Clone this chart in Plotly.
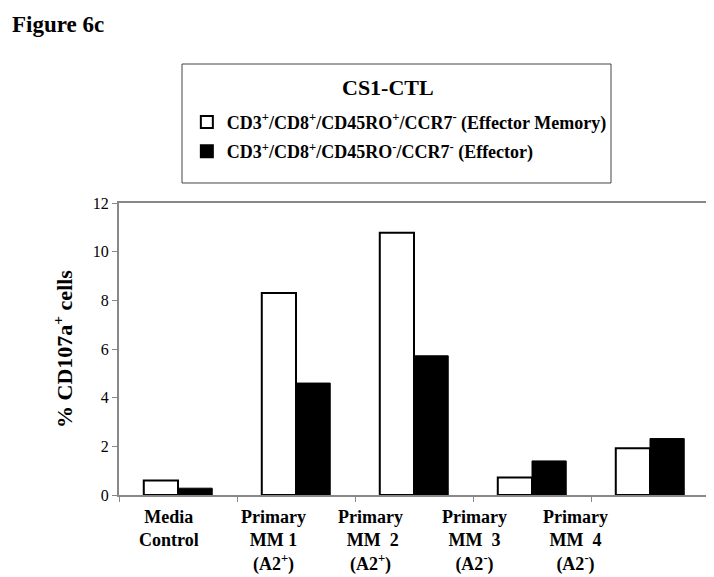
import plotly.graph_objects as go

categories = ["Media Control", "Primary MM 1 (A2+)", "Primary MM 2 (A2+)",
              "Primary MM 3 (A2-)", "Primary MM 4 (A2-)"]
tick_labels = ["Media<br>Control",
               "Primary<br>MM 1<br>(A2<sup>+</sup>)",
               "Primary<br> MM  2<br>(A2<sup>+</sup>)",
               "Primary<br>MM  3<br>(A2<sup>-</sup>)",
               "Primary<br>MM  4<br>(A2<sup>-</sup>)"]
effector_memory = [0.6, 8.3, 10.78, 0.72, 1.92]
effector = [0.28, 4.6, 5.72, 1.4, 2.32]
series_names = ["CD3<sup>+</sup>/CD8<sup>+</sup>/CD45RO<sup>+</sup>/CCR7<sup>-</sup> (Effector Memory)",
                "CD3<sup>+</sup>/CD8<sup>+</sup>/CD45RO<sup>-</sup>/CCR7<sup>-</sup> (Effector)"]
legend_title = "CS1-CTL"
y_ticks = [0, 2, 4, 6, 8, 10, 12]

# label horizontal offsets (in category units) mimicking the original's placement
label_offsets = [-0.08, -0.19, -0.37, -0.49, -0.63]

FONT = "Times New Roman"

fig = go.Figure()
fig.add_trace(go.Bar(
    x=categories, y=effector_memory, name="<b>" + series_names[0] + "</b>",
    marker=dict(color="white", line=dict(color="black", width=2)),
    legendgroup="a"))
fig.add_trace(go.Bar(
    x=categories, y=effector, name="<b>" + series_names[1] + "</b>",
    marker=dict(color="black", line=dict(color="black", width=1)),
    legendgroup="b"))

for i, (lab, off) in enumerate(zip(tick_labels, label_offsets)):
    fig.add_annotation(x=i + off, y=0, xref="x", yref="y", text="<b>" + lab + "</b>",
                       showarrow=False, yanchor="top", yshift=-10, align="center",
                       font=dict(family=FONT, size=18, color="black"))

fig.add_annotation(x=-0.185, y=1.66, xref="paper", yref="paper", xanchor="left", yanchor="top",
                   text="<b>Figure 6c</b>", showarrow=False,
                   font=dict(family=FONT, size=23, color="black"))

# legend frame and title
fig.add_shape(type="rect", xref="paper", yref="paper",
              x0=0.1068, x1=0.8339, y0=1.0685, y1=1.476,
              line=dict(color="#444", width=1), fillcolor="rgba(0,0,0,0)")
fig.add_annotation(x=0.456, y=1.394, xref="paper", yref="paper", xanchor="center", yanchor="middle",
                   text="<b>" + legend_title + "</b>", showarrow=False,
                   font=dict(family=FONT, size=22, color="black"))

fig.update_layout(
    width=706, height=569,
    margin=dict(l=111, r=5, t=195, b=82, autoexpand=False),
    paper_bgcolor="white", plot_bgcolor="white",
    barmode="group", bargap=0.42, bargroupgap=0,
    font=dict(family=FONT, color="black"),
    legend=dict(
        x=0.115, y=1.34, xanchor="left", yanchor="top",
        borderwidth=0, bgcolor="rgba(0,0,0,0)",
        traceorder="grouped", tracegroupgap=3,
        font=dict(family=FONT, size=18, color="black"),
        itemsizing="constant",
    ),
    xaxis=dict(
        showticklabels=False, tickson="boundaries", ticks="outside", ticklen=5,
        tickcolor="#888", showline=True, linecolor="#888", linewidth=2, mirror=True,
        showgrid=False, range=[-0.5, 4.5],
    ),
    yaxis=dict(
        range=[0, 12], tickvals=y_ticks, ticks="outside", ticklen=5, tickcolor="#888",
        showline=True, linecolor="#888", linewidth=2, mirror=True, showgrid=False,
        zeroline=False,
        tickfont=dict(family=FONT, size=16, color="black"),
        title=dict(text="<b>% CD107a<sup>+</sup> cells</b>", standoff=14,
                   font=dict(family=FONT, size=22, color="black")),
    ),
)

fig.write_html("out.html")
